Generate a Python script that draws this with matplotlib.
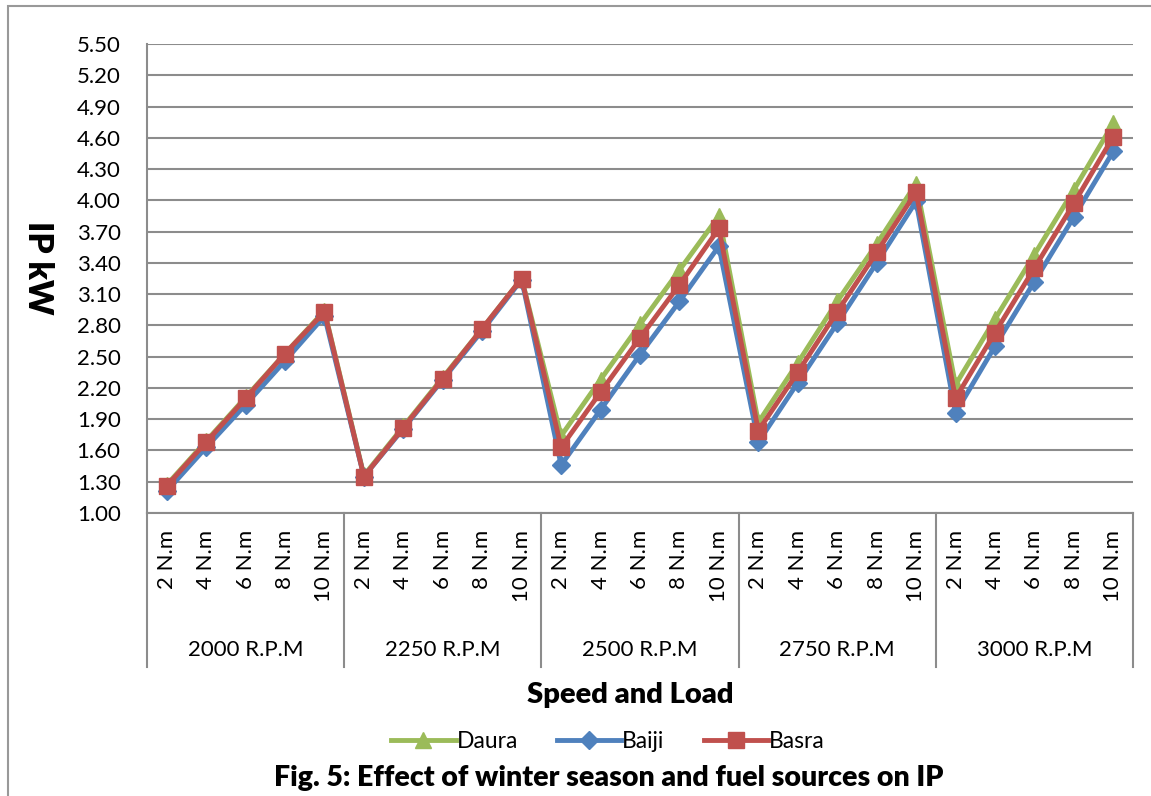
import numpy as np
import matplotlib
matplotlib.use('Agg')
from matplotlib import pyplot as plt
from matplotlib.patches import Rectangle
from matplotlib.lines import Line2D

plt.rcParams['font.family'] = ['Lato', 'DejaVu Sans']

# data
speeds = ['2000 R.P.M', '2250 R.P.M', '2500 R.P.M', '2750 R.P.M', '3000 R.P.M']
loads = ['2 N.m', '4 N.m', '6 N.m', '8 N.m', '10 N.m']

daura = [1.27, 1.69, 2.11, 2.53, 2.94,
         1.36, 1.83, 2.30, 2.77, 3.25,
         1.74, 2.28, 2.81, 3.33, 3.85,
         1.87, 2.44, 3.03, 3.58, 4.16,
         2.23, 2.86, 3.48, 4.10, 4.74]
baiji = [1.21, 1.63, 2.04, 2.46, 2.89,
         1.35, 1.81, 2.28, 2.75, 3.24,
         1.46, 1.99, 2.52, 3.03, 3.56,
         1.68, 2.25, 2.82, 3.40, 3.99,
         1.96, 2.60, 3.22, 3.84, 4.47]
basra = [1.26, 1.68, 2.10, 2.53, 2.93,
         1.35, 1.82, 2.29, 2.77, 3.25,
         1.63, 2.16, 2.68, 3.19, 3.73,
         1.79, 2.35, 2.93, 3.50, 4.08,
         2.10, 2.73, 3.35, 3.97, 4.61]

yticks = np.arange(1.0, 5.51, 0.3)

W, H = 1151, 796
fig = plt.figure(figsize=(W / 100, H / 100), dpi=100)
ax = fig.add_axes([147 / W, 1 - 513 / H, (1133 - 147) / W, (513 - 44) / H])

grid_c = '#8c8c8c'
x = np.arange(len(daura))
ax.plot(x, daura, color='#9BBB59', lw=3.5, marker='^', ms=12, label='Daura')
ax.plot(x, baiji, color='#4F81BD', lw=3.5, marker='D', ms=9, label='Baiji')
ax.plot(x, basra, color='#C0504D', lw=3.5, marker='s', ms=11, label='Basra')

ax.set_xlim(-0.5, len(x) - 0.5)
ax.set_ylim(1.0, 5.5)
ax.set_yticks(yticks)
ax.set_yticklabels(['%.2f' % v for v in yticks], fontsize=16)
ax.tick_params(axis='y', length=0, pad=19)
ax.set_xticks([])
ax.yaxis.grid(True, color=grid_c, lw=1.5)
ax.set_axisbelow(True)
for s in ['top', 'right']:
    ax.spines[s].set_visible(False)
for s in ['left', 'bottom']:
    ax.spines[s].set_color(grid_c)
    ax.spines[s].set_linewidth(1.5)

# category labels, rotated
trans = ax.get_xaxis_transform()
for i in x:
    ax.text(i, -17 / 469, loads[i % len(loads)], rotation=90, ha='center', va='top',
            fontsize=16, transform=trans)
# group labels and separators
n = len(loads)
for g, sp in enumerate(speeds):
    ax.text(g * n + (n - 1) / 2, -137 / 469, sp, ha='center', va='center',
            fontsize=16, transform=trans)
for g in range(len(speeds) + 1):
    ax.add_line(Line2D([g * n - 0.5] * 2, [0, -154 / 469], transform=trans,
                       color=grid_c, lw=1.5, clip_on=False))

fig.text(38 / W, 1 - 268 / H, 'IP kW', rotation=-90, ha='center', va='center',
         fontsize=24, fontweight='heavy')
fig.text(630 / W, 1 - 695 / H, 'Speed and Load', ha='center', va='center',
         fontsize=21, fontweight='heavy')
fig.legend(loc='center', bbox_to_anchor=(608 / W, 1 - 742 / H), ncol=3, frameon=False,
           fontsize=16.5, handlelength=2.8, handletextpad=0.05, columnspacing=1.7)
fig.text(609 / W, 1 - 778 / H, 'Fig. 5: Effect of winter season and fuel sources on IP',
         ha='center', va='center', fontsize=20.5, fontweight='heavy')

fig.patches.append(Rectangle((8 / W, -0.1), 1.2, 1 - 6 / H + 0.1, transform=fig.transFigure,
                             fill=False, edgecolor='#999999', lw=1.5))

fig.savefig('out.png', dpi=100)
